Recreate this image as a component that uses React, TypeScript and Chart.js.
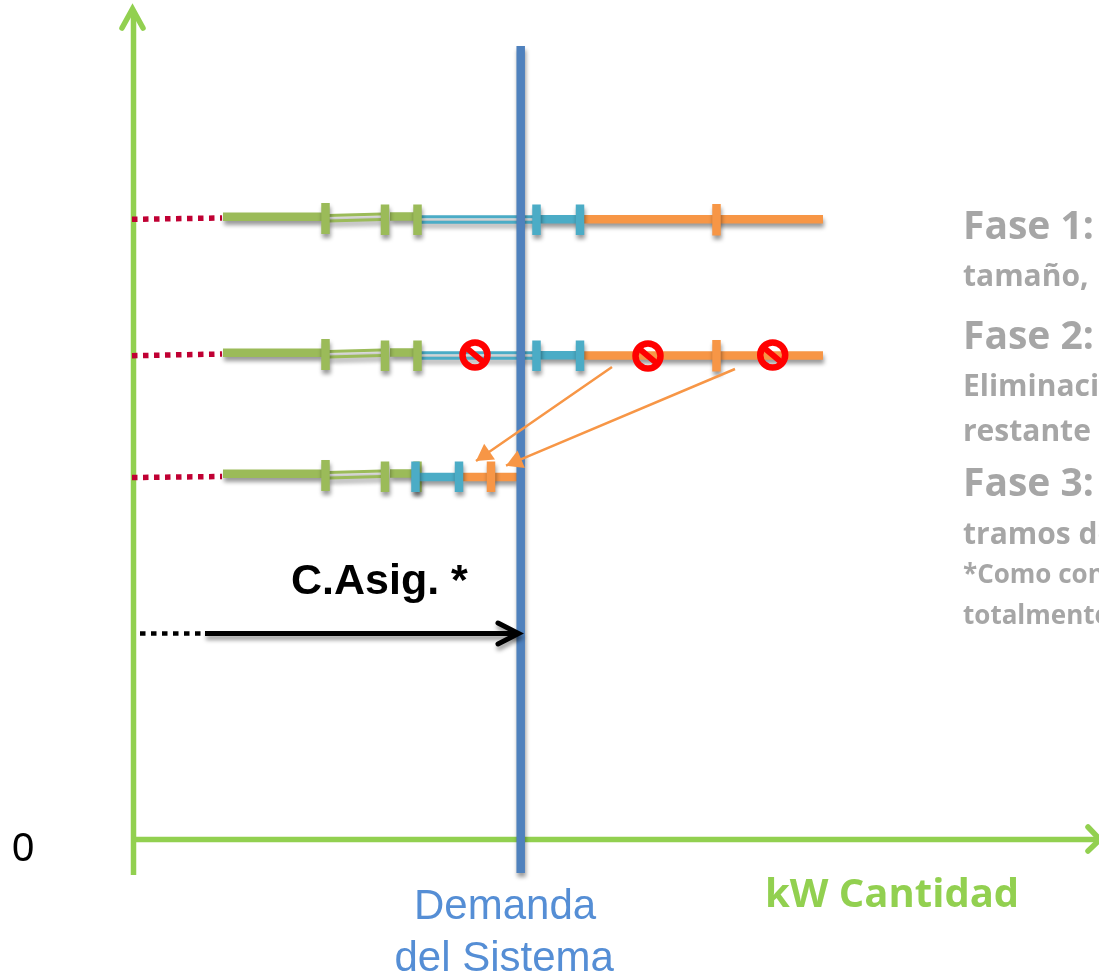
import React, { useEffect, useRef } from "react";
import { Chart, registerables } from "chart.js";

Chart.register(...registerables);

type Seg = [number, number, number, number];

// Layout of the three auction rows (vertical shift from the first row)
const rowShifts = [0, 136, 257];
const upperRowShifts = [0, 136];

// Segments of the supply bids: [xStart, yStart, xEnd, yEnd]
const redDotted: Seg[] = [[132, 219.3, 222, 218], [132, 355.7, 222, 354], [132, 477.5, 222, 476.5]];
const greenThick: Seg[] = [[223, 216.7, 322, 216.7], [390, 216.5, 415, 216.5]];
const greenThin: Seg[] = [[328, 215.5, 382, 214], [328, 221, 382, 219.5]];
const greenTicks: Seg[] = [[325.5, 203, 325.5, 234], [385, 204.5, 385, 235], [417.5, 204.5, 417.5, 235]];
const blueThin: Seg[] = [[420, 216.7, 536, 216.7], [420, 222.3, 536, 222.3]];
const blueThick: Seg[] = [[540, 219.3, 580, 219.3], [419, 477, 459, 477]];
const blueTicks: Seg[] = [[536.5, 204.5, 536.5, 235], [580, 204.5, 580, 235]];
const lowerBlueTicks: Seg[] = [[415.5, 461.5, 415.5, 492], [459, 461.5, 459, 492]];
const orangeThick: Seg[] = [[584, 219.3, 823, 219.3], [584, 355.5, 823, 355.5], [463, 477, 517, 477]];
const orangeTicks: Seg[] = [[716.5, 204, 716.5, 235.5], [716.5, 340, 716.5, 371.5], [491, 461.5, 491, 492]];
const demandLine: Seg = [520.7, 46, 520.7, 873];
const yAxisLine: Seg = [133.5, 12, 133.5, 875];
const xAxisLine: Seg = [133, 839.5, 1097, 839.5];
const axisHeads: number[][][] = [
  [[122, 28], [132.5, 9], [143, 28]],
  [[1088, 827], [1100, 839.5], [1088, 851]],
];
const capacityDotted: Seg = [140, 633.5, 205, 633.5];
const capacitySolid: Seg = [205, 633.5, 517, 633.5];
const capacityHead = [[498, 623], [518.5, 633.5], [498, 644]];

// Bids that are removed in phase 2 and re-assigned
const removedX = [475, 648, 772.7];
const removedY = [355, 356, 355];
const moveArrows: Seg[] = [[612, 367, 476, 461], [735, 369, 506, 465.7]];

const labels = [
  { t: "0", x: 12, y: 861, f: "40px 'Liberation Sans'", c: "#000000" },
  { t: "C.Asig. *", x: 291, y: 594, f: "bold 43px 'Liberation Sans'", c: "#000000" },
  { t: "Demanda", x: 414, y: 919, f: "42px 'Liberation Sans'", c: "#558ed5" },
  { t: "del Sistema", x: 394.5, y: 971, f: "42px 'Liberation Sans'", c: "#558ed5" },
  { t: "kW Cantidad", x: 765, y: 907, f: "bold 40px 'Open Sans'", c: "#92d050" },
  { t: "Fase 1:", x: 963, y: 239, f: "bold 39px 'Open Sans'", c: "#a6a6a6" },
  { t: "tamaño,", x: 963, y: 286, f: "bold 30px 'Open Sans'", c: "#a6a6a6" },
  { t: "Fase 2:", x: 963, y: 349, f: "bold 39px 'Open Sans'", c: "#a6a6a6" },
  { t: "Eliminación", x: 963, y: 396, f: "bold 30px 'Open Sans'", c: "#a6a6a6" },
  { t: "restante", x: 963, y: 441, f: "bold 30px 'Open Sans'", c: "#a6a6a6" },
  { t: "Fase 3:", x: 963, y: 496, f: "bold 39px 'Open Sans'", c: "#a6a6a6" },
  { t: "tramos de", x: 963, y: 544, f: "bold 30px 'Open Sans'", c: "#a6a6a6" },
  { t: "*Como con", x: 963, y: 583, f: "bold 26px 'Open Sans'", c: "#a6a6a6" },
  { t: "totalmente", x: 963, y: 624, f: "bold 26px 'Open Sans'", c: "#a6a6a6" },
];

const GREEN_AXIS = "#92d050";
const GREEN = "#9bbb59";
const TEAL = "#4bacc6";
const ORANGE = "#f79646";
const STEEL = "#4f81bd";
const CRIMSON = "#c00033";
const STOP = "#ff0000";

const toPts = (segs: Seg[]) =>
  segs.flatMap(([a, b, c, d]) => [{ x: a, y: b }, { x: c, y: d }, { x: NaN, y: NaN }]);
const shift = (segs: Seg[], shifts: number[]): Seg[] =>
  shifts.flatMap((s) => segs.map(([a, b, c, d]) => [a, b + s, c, d + s] as Seg));
const line = (data: any[], color: string, width: number, extra: any = {}) => ({
  type: "scatter",
  data,
  showLine: true,
  spanGaps: false,
  borderColor: color,
  backgroundColor: color,
  borderWidth: width,
  pointRadius: 0,
  borderCapStyle: "butt",
  tension: 0,
  ...extra,
});
const poly = (p: number[][]) => p.map(([x, y]) => ({ x, y }));

const arrowTips = moveArrows.map(([a, b, c, d]) => {
  const len = Math.hypot(c - a, d - b);
  const r = 11;
  return {
    x: c - ((c - a) / len) * r,
    y: d - ((d - b) / len) * r,
    rot: (Math.atan2(c - a, -(d - b)) * 180) / Math.PI,
  };
});

const soft = { softShadow: true };

const shadowPlugin = {
  id: "softShadow",
  beforeDatasetDraw(chart: any, args: any) {
    const ds = chart.data.datasets[args.index];
    if (ds.softShadow) {
      const ctx = chart.ctx;
      ctx.save();
      ctx.shadowColor = "rgba(0,0,0,0.4)";
      ctx.shadowBlur = 4;
      ctx.shadowOffsetX = 1;
      ctx.shadowOffsetY = 4;
    }
  },
  afterDatasetDraw(chart: any, args: any) {
    if (chart.data.datasets[args.index].softShadow) chart.ctx.restore();
  },
};

const textPlugin = {
  id: "diagramText",
  afterDraw(chart: any) {
    const ctx = chart.ctx;
    ctx.save();
    ctx.textAlign = "left";
    ctx.textBaseline = "alphabetic";
    labels.forEach((l) => {
      ctx.font = l.f;
      ctx.fillStyle = l.c;
      ctx.fillText(l.t, l.x, l.y);
    });
    ctx.restore();
  },
};

export default function App() {
  const ref = useRef<HTMLCanvasElement>(null);
  useEffect(() => {
    if (!ref.current) return;
    const paintOrder: any[] = [
      line(toPts([yAxisLine, xAxisLine]), GREEN_AXIS, 5.5),
      ...axisHeads.map((h) => line(poly(h), GREEN_AXIS, 5.5, { borderCapStyle: "round", borderJoinStyle: "miter" })),
      line(toPts(redDotted), CRIMSON, 5.5, { borderDash: [5.5, 5.5] }),
      line(toPts(shift(greenThick, rowShifts)), GREEN, 8.5, soft),
      line(toPts(shift(greenThin, rowShifts)), GREEN, 3, soft),
      line(toPts(shift(blueThin, upperRowShifts)), TEAL, 3, soft),
      line(toPts(shift(greenTicks, rowShifts)), GREEN, 8.5, soft),
      line(toPts(shift(blueThick.slice(0, 1), upperRowShifts).concat(blueThick.slice(1))), TEAL, 8.5, soft),
      line(toPts(orangeThick), ORANGE, 8.5, soft),
      line(toPts(shift(blueTicks, upperRowShifts).concat(lowerBlueTicks)), TEAL, 8.5, soft),
      line(toPts(orangeTicks), ORANGE, 8.5, soft),
      line(toPts([demandLine]), STEEL, 8.5, soft),
      line(toPts([capacityDotted]), "#000000", 4.5, { borderDash: [5.5, 5.5] }),
      line(toPts([capacitySolid]), "#000000", 5, soft),
      line(poly(capacityHead), "#000000", 5, { borderCapStyle: "round", borderJoinStyle: "miter", ...soft }),
      line(toPts(moveArrows), ORANGE, 2.5),
      {
        type: "scatter",
        data: arrowTips.map((a) => ({ x: a.x, y: a.y })),
        pointStyle: "triangle",
        pointRadius: 11,
        pointRotation: arrowTips.map((a) => a.rot),
        backgroundColor: ORANGE,
        borderColor: ORANGE,
        borderWidth: 0,
      },
      {
        type: "scatter",
        data: removedX.map((x, i) => ({ x, y: removedY[i] })),
        pointStyle: "circle",
        pointRadius: 12.5,
        backgroundColor: "rgba(0,0,0,0)",
        borderColor: STOP,
        borderWidth: 6.5,
      },
      {
        type: "scatter",
        data: removedX.map((x, i) => ({ x, y: removedY[i] })),
        pointStyle: "line",
        pointRadius: 12.5,
        pointRotation: 40,
        borderColor: STOP,
        backgroundColor: STOP,
        borderWidth: 6,
      },
    ];
    const chart = new Chart(ref.current, {
      type: "scatter",
      data: { datasets: paintOrder.slice().reverse() },
      options: {
        animation: false,
        responsive: false,
        layout: { padding: 0, autoPadding: false },
        plugins: { legend: { display: false }, tooltip: { enabled: false }, title: { display: false } },
        scales: {
          x: { type: "linear", display: false, min: 0, max: 1099 },
          y: { type: "linear", display: false, min: 0, max: 973, reverse: true },
        },
      },
      plugins: [shadowPlugin, textPlugin],
    } as any);
    return () => chart.destroy();
  }, []);
  return (
    <div style={{ position: "absolute", left: 0, top: 0, width: 1099, height: 973, overflow: "hidden", background: "#ffffff" }}>
      <canvas ref={ref} width={1099} height={973} style={{ display: "block" }} />
    </div>
  );
}
